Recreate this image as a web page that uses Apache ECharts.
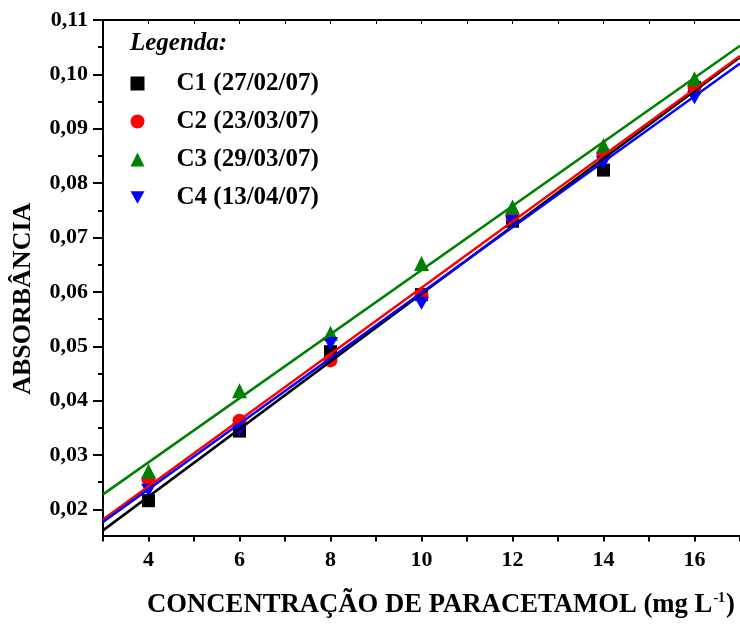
<!DOCTYPE html>
<html>
<head>
<meta charset="utf-8">
<script src="https://cdn.jsdelivr.net/npm/echarts@6/dist/echarts.min.js"></script>
<style>
  html, body { margin: 0; padding: 0; background: #fff; }
  #chart { width: 740px; height: 624px; }
</style>
</head>
<body>
<div id="chart"></div>
<script>
// concentração (mg/L) e absorbância de cada curva
const concentracao = [4, 6, 8, 10, 12, 14, 16];
const c1 = [0.0216, 0.0344, 0.0490, 0.0595, 0.0730, 0.0824, 0.0976];
const c2 = [0.0255, 0.0363, 0.0474, 0.0593, 0.0738, 0.0853, 0.0977];
const c3 = [0.0270, 0.0418, 0.0524, 0.0652, 0.0756, 0.0869, 0.0992];
const c4 = [0.0235, 0.0346, 0.0505, 0.0579, 0.0729, 0.0838, 0.0957];

const xTicks = [4, 6, 8, 10, 12, 14, 16];
const yTicks = [0.02, 0.03, 0.04, 0.05, 0.06, 0.07, 0.08, 0.09, 0.10, 0.11];
const yMinorTicks = [0.025, 0.035, 0.045, 0.055, 0.065, 0.075, 0.085, 0.095, 0.105];

const curvas = [
    { name: "C1 (27/02/07)", data: c1, color: "#000000", symbol: "rect", size: 13 },
    { name: "C2 (23/03/07)", data: c2, color: "#ff0000", symbol: "circle", size: 14 },
    { name: "C3 (29/03/07)", data: c3, color: "#008000", symbol: "triangle", size: 15 },
    { name: "C4 (13/04/07)", data: c4, color: "#0000ff", symbol: "path://M0,0 L10,0 L5,9 Z", size: 15 },
];

const X_MIN = 3;
const X_MAX = 17;
const FONT = "'Liberation Serif', 'Times New Roman', serif";

// regressão linear (mínimos quadrados)
function ajuste(xs, ys) {
    const n = xs.length;
    const mx = xs.reduce((a, b) => a + b, 0) / n;
    const my = ys.reduce((a, b) => a + b, 0) / n;
    let sxy = 0, sxx = 0;
    for (let i = 0; i < n; i++) {
        sxy += (xs[i] - mx) * (ys[i] - my);
        sxx += (xs[i] - mx) * (xs[i] - mx);
    }
    const b = sxy / sxx;
    const a = my - b * mx;
    return [[X_MIN, a + b * X_MIN], [X_MAX, a + b * X_MAX]];
}

const series = [];
curvas.forEach((c) => {
    series.push({
        name: c.name,
        type: "scatter",
        symbol: c.symbol,
        symbolSize: c.symbol.startsWith("path") ? [15, 13] : c.size,
        itemStyle: { color: c.color, opacity: 1 },
        z: 2,
        data: concentracao.map((x, i) => [x, c.data[i]]),
    });
});
curvas.forEach((c) => {
    series.push({
        name: c.name + " ajuste",
        type: "line",
        showSymbol: false,
        silent: true,
        lineStyle: { color: c.color, width: 2.5 },
        z: 3,
        data: ajuste(concentracao, c.data),
    });
});

const option = {
    animation: false,
    grid: { left: 103, top: 20, right: -6, bottom: 86 },
    graphic: [
        {
            type: "text",
            left: 130,
            top: 31,
            style: {
                text: "Legenda:",
                font: "italic bold 25px " + FONT,
                fill: "#000",
            },
        },
    ],
    legend: {
        data: curvas.map((c) => c.name),
        orient: "vertical",
        left: 130.5,
        top: 71,
        padding: 0,
        itemWidth: 14,
        itemHeight: 14,
        itemGap: 13,
        textStyle: {
            fontFamily: FONT,
            fontWeight: "bold",
            fontSize: 25,
            lineHeight: 23,
            color: "#000",
            padding: [0, 0, 0, 27],
        },
    },
    xAxis: [
        {
            type: "value",
            min: X_MIN,
            max: X_MAX,
            interval: 1,
            name: "CONCENTRAÇÃO DE PARACETAMOL (mg L{sup|-1})",
            nameLocation: "middle",
            nameGap: 56,
            nameTextStyle: {
                fontFamily: FONT,
                fontWeight: "bold",
                fontSize: 26.7,
                color: "#000",
                padding: [0, 0, 0, 39],
                rich: {
                    sup: {
                        fontFamily: FONT,
                        fontWeight: "bold",
                        fontSize: 14,
                        verticalAlign: "top",
                        padding: [0, 1, 14, 1],
                    },
                },
            },
            axisLine: { lineStyle: { color: "#000", width: 2 } },
            axisTick: { length: 6, lineStyle: { color: "#000", width: 2 } },
            axisLabel: {
                customValues: xTicks,
                margin: 14,
                fontFamily: FONT,
                fontWeight: "bold",
                fontSize: 22,
                color: "#000",
            },
            splitLine: { show: false },
        },
        {
            type: "value",
            position: "top",
            min: X_MIN,
            max: X_MAX,
            interval: 1,
            axisLine: { lineStyle: { color: "#000", width: 2 } },
            axisTick: { inside: true, length: 4, lineStyle: { color: "#000", width: 1 } },
            axisLabel: { show: false },
            splitLine: { show: false },
        },
    ],
    yAxis: [
        {
            type: "value",
            min: 0.0152,
            max: 0.11,
            name: "ABSORBÂNCIA",
            nameLocation: "middle",
            nameGap: 67,
            nameMoveOverlap: false,
            nameTextStyle: {
                fontFamily: FONT,
                fontWeight: "bold",
                fontSize: 26,
                color: "#000",
                padding: [0, 42, 0, 0],
            },
            axisLine: { show: true, lineStyle: { color: "#000", width: 2 } },
            axisTick: { customValues: yTicks, length: 10, lineStyle: { color: "#000", width: 2 } },
            axisLabel: {
                customValues: yTicks,
                margin: 15,
                fontFamily: FONT,
                fontWeight: "bold",
                fontSize: 22,
                color: "#000",
                formatter: (v) => v.toFixed(2).replace(".", ","),
            },
            splitLine: { show: false },
        },
        {
            type: "value",
            position: "left",
            min: 0.0152,
            max: 0.11,
            axisLine: { show: false },
            axisTick: { customValues: yMinorTicks, length: 5, lineStyle: { color: "#000", width: 2 } },
            axisLabel: { show: false },
            splitLine: { show: false },
        },
    ],
    series: series,
};

const chart = echarts.init(document.getElementById("chart"));
chart.setOption(option);
</script>
</body>
</html>
